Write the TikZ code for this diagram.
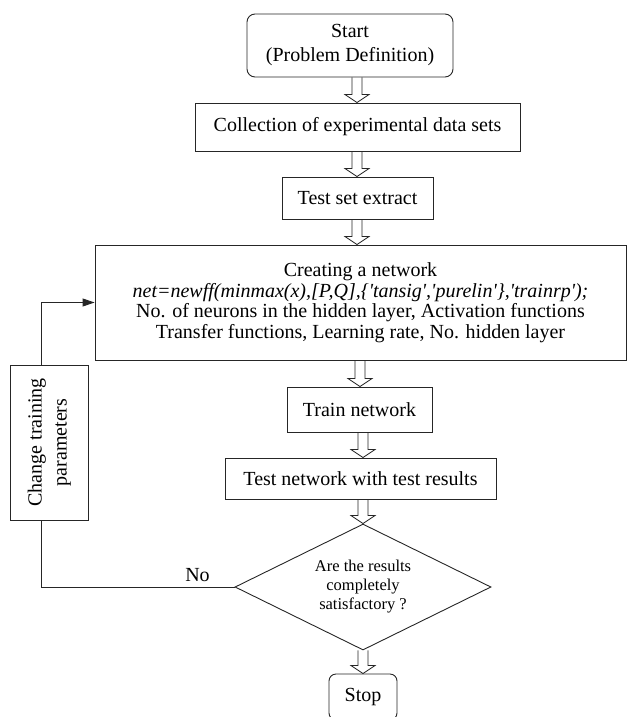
\documentclass[tikz,border=0pt]{standalone}
\usepackage{fontspec}
\setmainfont{Liberation Serif}
\usetikzlibrary{shapes.geometric,arrows.meta,calc}
\newcommand\hollowarrow[3]{%
  \coordinate (ha1) at (#1 |- #2);
  \coordinate (ha2) at (#1 |- #3);
  \draw[hollow] ($(ha1)+(-5,0)$) -- ($(ha2)+(-5,-8)$) -- ($(ha2)+(-12,-8)$) -- (ha2)
     -- ($(ha2)+(12,-8)$) -- ($(ha2)+(5,-8)$) -- ($(ha1)+(5,0)$);}
\begin{document}
\begin{tikzpicture}[x=1pt,y=-1pt,
  box/.style={draw=black!85, line width=0.9pt, align=center, inner sep=0pt,
              font=\fontsize{20}{20.5}\selectfont},
  rbox/.style={box, rounded corners=8pt},
  hollow/.style={draw=black!85, line width=0.8pt, line join=miter},
  conn/.style={draw=black!85, line width=0.9pt}]
\clip (0,0) rectangle (627,717);
\node[rbox, minimum width=206, minimum height=63, font=\fontsize{20}{24}\selectfont] (start) at (350,45.5) {Start\\(Problem Definition)};
\node[box, minimum width=325, minimum height=48] (collect) at (357.5,127) {Collection of experimental data sets};
\node[box, minimum width=151, minimum height=42] (extract) at (357.5,198) {Test set extract};
\node[box, minimum width=531, minimum height=115] (create) at (360.5,302.5) {Creating a network\\\textit{net=newff(minmax(x),[P,Q],\{\textquotesingle tansig\textquotesingle,\textquotesingle purelin\textquotesingle\},\textquotesingle trainrp\textquotesingle);}\\No. of neurons in the hidden layer, Activation functions\\Transfer functions, Learning rate, No. hidden layer};
\node[box, minimum width=145, minimum height=45] (train) at (359.5,409.5) {Train network};
\node[box, minimum width=271, minimum height=41] (testnet) at (360.5,478.5) {Test network with test results};
\node[diamond, draw=black!85, line width=0.9pt, aspect=2.03, minimum width=256, minimum height=126, inner sep=0pt, align=center, font=\fontsize{16.5}{19}\selectfont] (dia) at (363,587) {Are the results\\completely\\satisfactory ?};
\node[rbox, rounded corners=7pt, minimum width=68, minimum height=46] (stop) at (363,697) {Stop};
\node[box, minimum width=78, minimum height=155, font=\fontsize{20}{25}\selectfont] (change) at (49,442.5) {\rotatebox{90}{\begin{tabular}{@{}c@{}}Change training\\parameters\end{tabular}}};
\node[font=\fontsize{20}{20}\selectfont, inner sep=0pt] (no) at (197.5,575) {No};
\coordinate (lx) at (41,0);
\coordinate (ca) at (357,0);
\coordinate (cb) at (360,0);
\coordinate (cc) at (363,0);
\draw[conn, -{Triangle[length=12pt,width=8pt]}] (lx |- change.north) |- (create.west);
\draw[conn] (lx |- change.south) |- (dia.west);
\hollowarrow{ca}{start.south}{collect.north}
\hollowarrow{ca}{collect.south}{extract.north}
\hollowarrow{ca}{extract.south}{create.north}
\hollowarrow{cb}{create.south}{train.north}
\hollowarrow{cc}{train.south}{testnet.north}
\hollowarrow{cc}{testnet.south}{dia.north}
\hollowarrow{cc}{dia.south}{stop.north}
\end{tikzpicture}
\end{document}
